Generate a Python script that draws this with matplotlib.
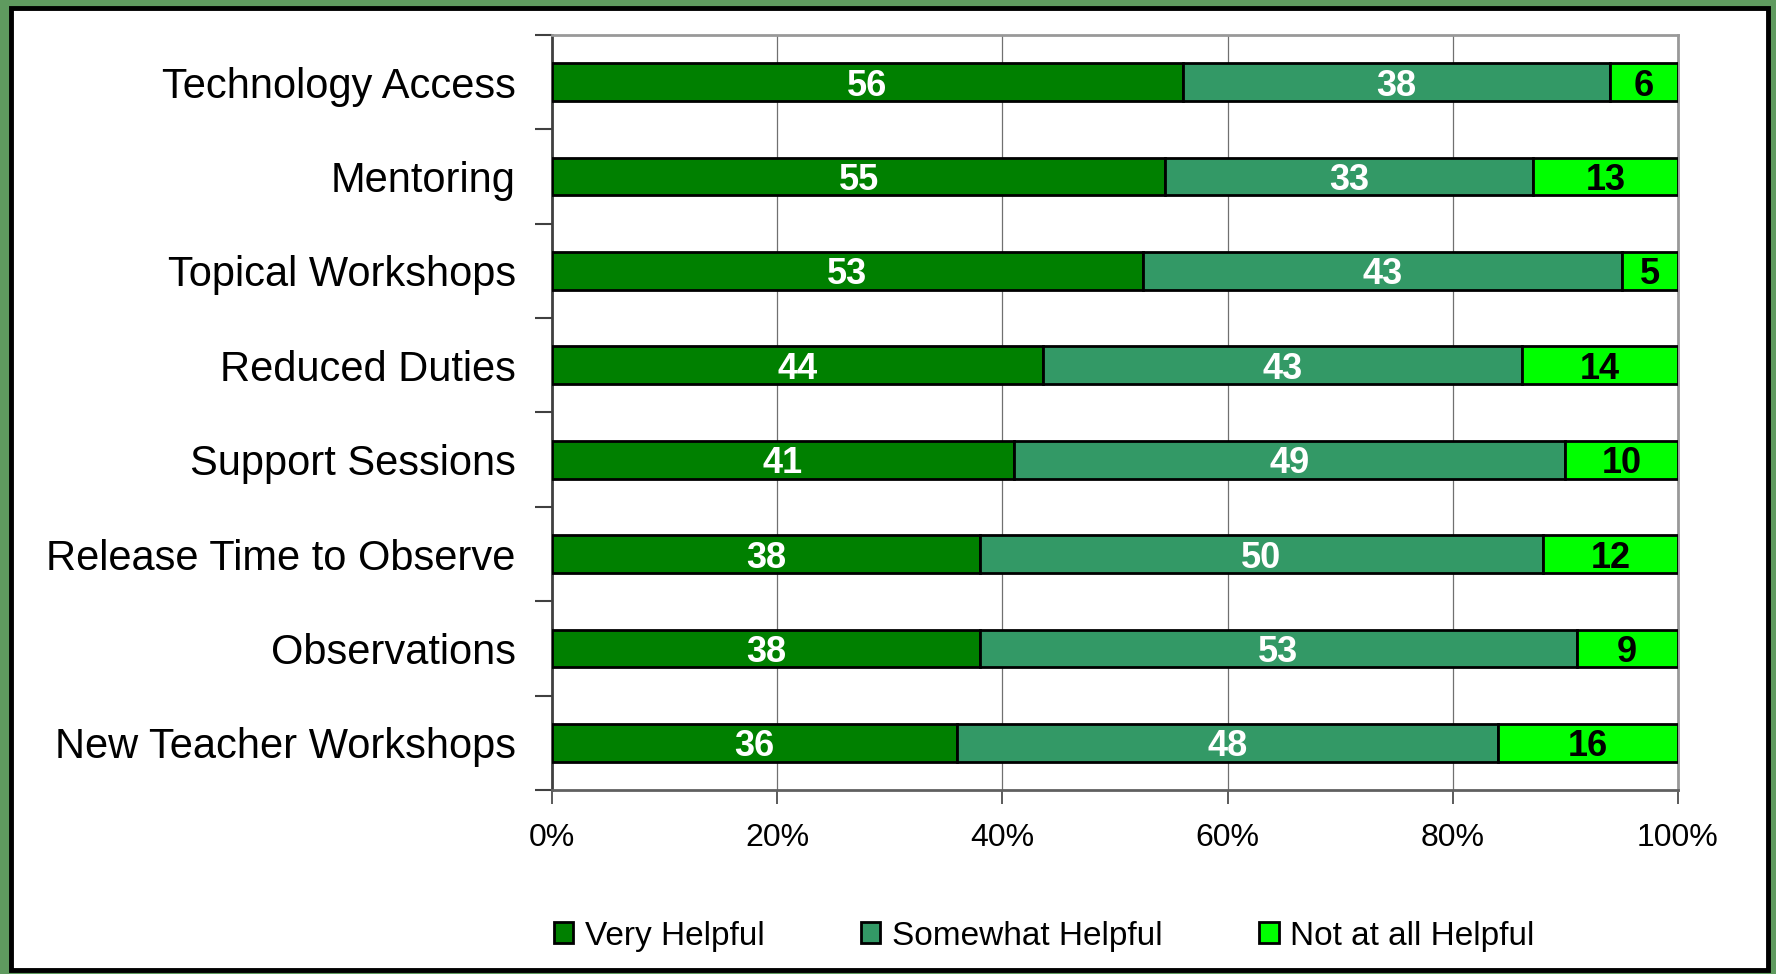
import numpy as np
import matplotlib
matplotlib.use("Agg")
import matplotlib.pyplot as plt
from matplotlib.patches import Rectangle

plt.rcParams['font.family'] = ['Liberation Sans', 'DejaVu Sans']

# data (bottom to top, as drawn)
kategori = ["New Teacher Workshops", "Observations", "Release Time to Observe",
            "Support Sessions", "Reduced Duties", "Topical Workshops",
            "Mentoring", "Technology Access"]
very = [36, 38, 38, 41, 44, 53, 55, 56]
somewhat = [48, 53, 50, 49, 43, 43, 33, 38]
notatall = [16, 9, 12, 10, 14, 5, 13, 6]
seri = ["Very Helpful", "Somewhat Helpful", "Not at all Helpful"]
warna = ["#008000", "#339966", "#00FF00"]
warna_teks = ["white", "white", "black"]
xticks = [0, 20, 40, 60, 80, 100]

fig = plt.figure(figsize=(17.76, 9.74), dpi=100)
fig.patch.set_facecolor("#5f9a5f")
# bingkai putih dengan garis hitam
fig.patches.append(Rectangle((11 / 1776, 4 / 974), 1757 / 1776, 962 / 974,
                             transform=fig.transFigure, facecolor="white",
                             edgecolor="black", linewidth=3.5, zorder=0))

ax = fig.add_axes([0.3108, 0.189, 0.634, 0.775])
ax.set_zorder(2)
ax.set_facecolor("white")

data = np.array([very, somewhat, notatall], dtype=float)
persen = data / data.sum(axis=0) * 100
y = np.arange(len(kategori))
kiri = np.zeros(len(kategori))
for i in range(3):
    ax.barh(y, persen[i], left=kiri, height=0.4, color=warna[i],
            edgecolor="black", linewidth=2, label=seri[i], zorder=3)
    for j in range(len(kategori)):
        ax.text(kiri[j] + persen[i][j] / 2, y[j], str(int(data[i][j])),
                ha="center", va="center_baseline", color=warna_teks[i],
                fontsize=26, fontweight="bold", zorder=4)
    kiri = kiri + persen[i]

ax.set_xlim(0, 100)
ax.set_ylim(-0.5, len(kategori) - 0.5)
ax.set_xticks(xticks)
ax.set_xticklabels([f"{t}%" for t in xticks], fontsize=23)
ax.set_yticks(y)
ax.set_yticklabels(kategori, fontsize=30)
ax.set_yticks(np.arange(-0.5, len(kategori), 1), minor=True)
ax.tick_params(axis="y", which="major", length=0, pad=26)
ax.tick_params(axis="y", which="minor", length=12, width=1.5, color="#404040",
               direction="out")
ax.tick_params(axis="x", length=10, width=1.2, color="#404040", pad=14)
ax.grid(axis="x", color="#707070", linewidth=0.9, zorder=1)

for s in ["top", "right"]:
    ax.spines[s].set_color("#999999")
    ax.spines[s].set_linewidth(2)
ax.spines["left"].set_color("#404040")
ax.spines["left"].set_linewidth(2)
ax.spines["bottom"].set_color("#606060")
ax.spines["bottom"].set_linewidth(2)

leg = fig.legend(loc="center", bbox_to_anchor=(0.588, 0.039), ncol=3,
                 fontsize=24, frameon=False, handlelength=0.58,
                 handleheight=0.58, handletextpad=0.35, columnspacing=2.9)
leg.set_zorder(3)

fig.savefig("out.png", dpi=100, facecolor=fig.get_facecolor())
